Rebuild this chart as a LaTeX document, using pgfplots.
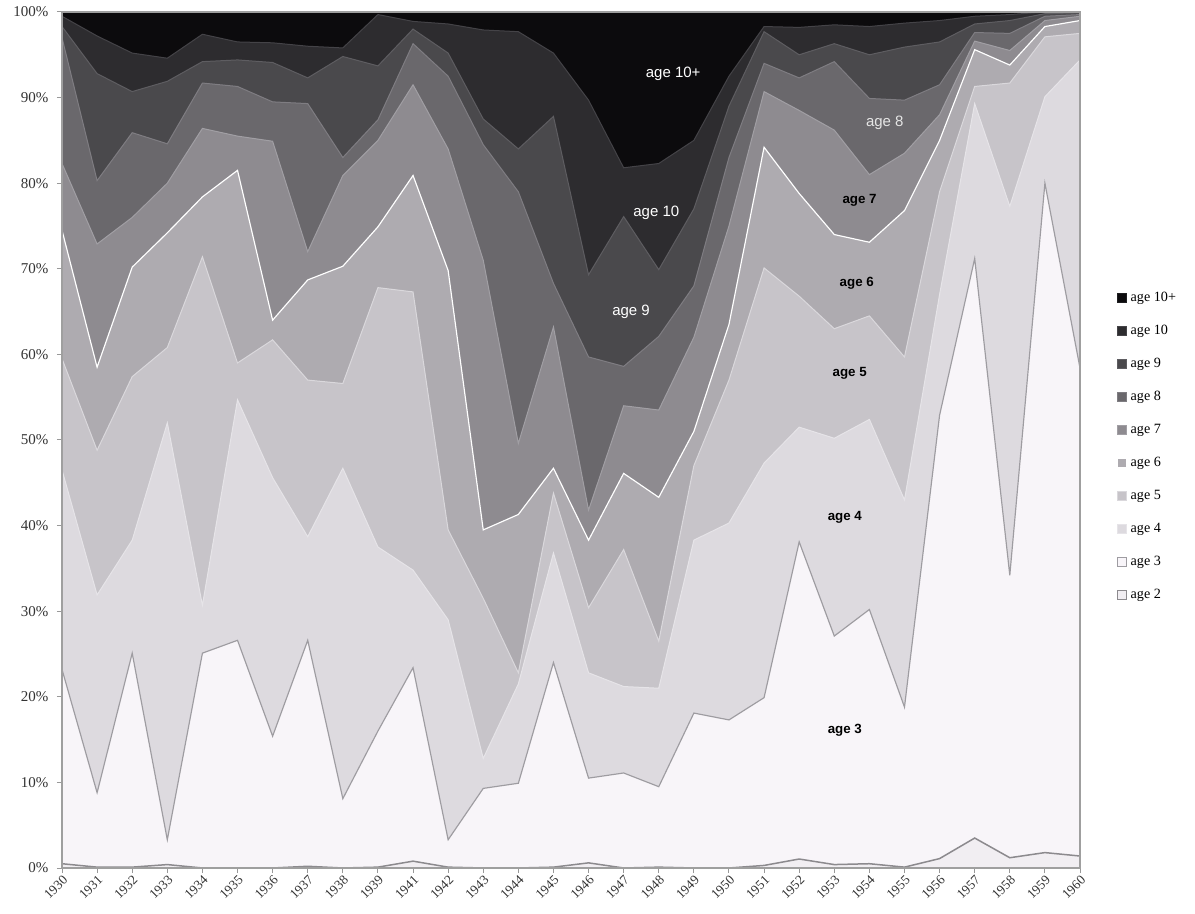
\documentclass[border=0pt]{standalone}
\usepackage{fontspec}
\setmainfont{Liberation Serif}
\newfontfamily\labelfont{Liberation Sans}
\usepackage{pgfplots}
\pgfplotsset{compat=1.18}
\usepackage{pgfplotstable}

\definecolor{cA}{HTML}{0C0B0D}
\definecolor{cB}{HTML}{2D2C2F}
\definecolor{cC}{HTML}{4A494C}
\definecolor{cD}{HTML}{6A686C}
\definecolor{cE}{HTML}{8E8B90}
\definecolor{cF}{HTML}{AEABB0}
\definecolor{cG}{HTML}{C7C4C9}
\definecolor{cH}{HTML}{DDDADF}
\definecolor{cI}{HTML}{F8F5F9}
\definecolor{cJ}{HTML}{F1EEF2}
\definecolor{lA}{HTML}{1E1E20}
\definecolor{lB}{HTML}{444347}
\definecolor{lC}{HTML}{5E5D61}
\definecolor{lD}{HTML}{7F7D82}
\definecolor{lE}{HTML}{A19FA4}
\definecolor{lF}{HTML}{FFFFFF}
\definecolor{lG}{HTML}{DAD8DC}
\definecolor{lH}{HTML}{E6E4E8}
\definecolor{lI}{HTML}{9E9CA1}
\definecolor{lJ}{HTML}{8C8A8E}

% cumulative boundaries (top of each age layer), percent
\pgfplotstableread{
idx c2 c3 c4 c5 c6 c7 c8 c9 c10 c11
0 0.5 23.2 46.5 59.5 74.5 82.3 97.0 98.3 99.5 100
1 0.1 8.8 31.9 48.8 58.5 72.9 80.3 92.8 97.2 100
2 0.1 25.1 38.3 57.4 70.2 76.0 85.9 90.7 95.2 100
3 0.4 3.3 52.0 60.8 74.2 80.0 84.6 91.9 94.6 100
4 0.0 25.1 30.7 71.4 78.4 86.4 91.7 94.2 97.4 100
5 0.0 26.6 54.7 59.0 81.5 85.5 91.3 94.4 96.5 100
6 0.0 15.4 45.6 61.7 64.0 84.9 89.5 94.1 96.4 100
7 0.2 26.6 38.7 57.0 68.7 72.0 89.3 92.3 96.0 100
8 0.0 8.1 46.7 56.6 70.3 80.9 83.0 94.8 95.8 100
9 0.1 16.0 37.5 67.8 74.9 85.0 87.4 93.7 99.7 100
10 0.8 23.4 34.8 67.3 80.9 91.5 96.3 98.0 98.9 100
11 0.1 3.3 29.0 39.5 69.8 84.0 92.5 95.2 98.6 100
12 0.0 9.3 12.8 31.5 39.5 71.0 84.5 87.5 97.9 100
13 0.0 9.9 21.5 22.8 41.3 49.6 79.0 84.0 97.7 100
14 0.1 24.0 36.8 43.8 46.7 63.2 68.3 87.8 95.2 100
15 0.6 10.5 22.8 30.4 38.3 41.8 59.7 69.3 89.7 100
16 0.0 11.1 21.2 37.2 46.1 54.0 58.6 76.1 81.8 100
17 0.1 9.5 21.0 26.5 43.3 53.5 62.1 69.9 82.3 100
18 0.0 18.1 38.3 47.0 51.0 62.0 68.0 77.0 85.0 100
19 0.0 17.3 40.3 57.0 63.5 75.0 83.0 89.0 92.5 100
20 0.3 19.9 47.3 70.1 84.2 90.7 94.0 97.7 98.3 100
21 1.05 38.1 51.5 66.8 78.8 88.5 92.3 95.0 98.2 100
22 0.4 27.1 50.2 63.0 74.0 86.2 94.2 96.3 98.5 100
23 0.5 30.2 52.4 64.5 73.1 81.0 89.9 95.0 98.3 100
24 0.1 18.8 43.0 59.7 76.8 83.5 89.7 95.9 98.7 100
25 1.1 52.9 67.0 79.0 85.0 88.0 91.5 96.5 99.0 100
26 3.5 71.2 89.3 91.3 95.6 96.6 97.6 98.6 99.5 100
27 1.2 34.2 77.3 91.7 93.8 95.5 97.5 99.0 99.7 100
28 1.8 80.0 90.1 97.1 98.3 99.0 99.5 99.8 100 100
29 1.4 58.4 94.4 97.5 99.0 99.5 99.7 99.9 100 100
}\cum

\begin{document}
\begin{tikzpicture}
\path[use as bounding box] (-37.2pt,-27.6pt) rectangle (679.8pt,520.8pt);
\begin{axis}[
  at={(0pt,0pt)}, anchor=south west,
  scale only axis, width=610.8pt, height=513.6pt,
  xmin=0, xmax=29, ymin=0, ymax=100,
  xtick={0,...,29},
  xticklabels={1930,1931,1932,1933,1934,1935,1936,1937,1938,1939,1941,1942,1943,1944,1945,1946,1947,1948,1949,1950,1951,1952,1953,1954,1955,1956,1957,1958,1959,1960},
  ytick={0,10,...,100},
  yticklabels={0\%,10\%,20\%,30\%,40\%,50\%,60\%,70\%,80\%,90\%,100\%},
  tick pos=left, tick align=outside,
  major tick length=3pt,
  tick style={draw=gray!80, line width=0.6pt},
  axis line style={draw=gray!75, line width=0.8pt},
  axis on top,
  yticklabel style={font=\fontsize{9}{10}\selectfont, text=black!80, inner sep=2pt, xshift=-3pt},
  xticklabel style={font=\fontsize{8}{9}\selectfont, text=black!80, rotate=45, anchor=north east, inner sep=0.5pt},
  legend cell align=left,
  legend image code/.code={\draw[#1, line width=0.5pt] (0pt,-2.6pt) rectangle (5.2pt,2.6pt);},
  legend style={at={(1.036,0.675)}, anchor=north west, draw=none, fill=none,
    font=\fontsize{8.5}{9}\selectfont, row sep=11.3pt, inner sep=0pt,
    nodes={inner sep=0pt, text height=6.5pt, text depth=2pt},
    /tikz/every odd column/.style={column sep=2.5pt}},
]
\addplot[fill=cA, draw=lA, line width=0.6pt] table[x=idx,y=c11]{\cum} \closedcycle;
\addlegendentry{age 10+}
\addplot[fill=cB, draw=lB, line width=0.6pt] table[x=idx,y=c10]{\cum} \closedcycle;
\addlegendentry{age 10}
\addplot[fill=cC, draw=lC, line width=0.6pt] table[x=idx,y=c9]{\cum} \closedcycle;
\addlegendentry{age 9}
\addplot[fill=cD, draw=lD, line width=0.6pt] table[x=idx,y=c8]{\cum} \closedcycle;
\addlegendentry{age 8}
\addplot[fill=cE, draw=lE, line width=0.6pt] table[x=idx,y=c7]{\cum} \closedcycle;
\addlegendentry{age 7}
\addplot[fill=cF, draw=lF, line width=0.7pt] table[x=idx,y=c6]{\cum} \closedcycle;
\addlegendentry{age 6}
\addplot[fill=cG, draw=lG, line width=0.6pt] table[x=idx,y=c5]{\cum} \closedcycle;
\addlegendentry{age 5}
\addplot[fill=cH, draw=lH, line width=0.6pt] table[x=idx,y=c4]{\cum} \closedcycle;
\addlegendentry{age 4}
\addplot[fill=cI, draw=lI, line width=0.7pt] table[x=idx,y=c3]{\cum} \closedcycle;
\addlegendentry{age 3}
\addplot[fill=cJ, draw=lJ, line width=0.9pt] table[x=idx,y=c2]{\cum} \closedcycle;
\addlegendentry{age 2}

\node[font=\labelfont\fontsize{9}{10}\selectfont, text=white] at (axis cs:17.41,92.76) {age 10+};
\node[font=\labelfont\fontsize{9}{10}\selectfont, text=white] at (axis cs:16.93,76.5) {age 10};
\node[font=\labelfont\fontsize{9}{10}\selectfont, text=white] at (axis cs:16.21,64.95) {age 9};
\node[font=\labelfont\fontsize{9}{10}\selectfont, text=black!10] at (axis cs:23.44,87.0) {age 8};
\node[font=\labelfont\bfseries\fontsize{8}{9}\selectfont, text=black] at (axis cs:22.72,78.0) {age 7};
\node[font=\labelfont\bfseries\fontsize{8}{9}\selectfont, text=black] at (axis cs:22.64,68.3) {age 6};
\node[font=\labelfont\bfseries\fontsize{8}{9}\selectfont, text=black] at (axis cs:22.44,57.8) {age 5};
\node[font=\labelfont\bfseries\fontsize{8}{9}\selectfont, text=black] at (axis cs:22.30,41.0) {age 4};
\node[font=\labelfont\bfseries\fontsize{8}{9}\selectfont, text=black] at (axis cs:22.30,16.1) {age 3};
\end{axis}
\end{tikzpicture}
\end{document}
